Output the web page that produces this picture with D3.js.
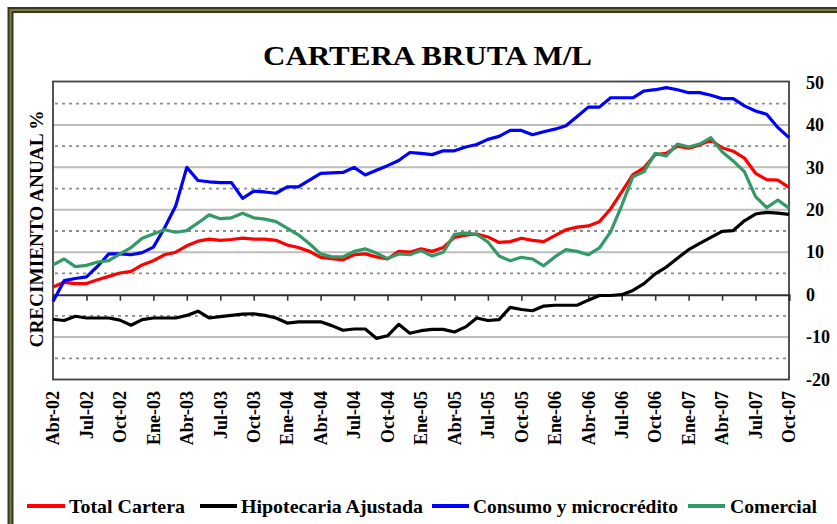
<!DOCTYPE html>
<html>
<head>
<meta charset="utf-8">
<script src="https://cdn.jsdelivr.net/npm/d3@7/dist/d3.min.js"></script>
<style>
  html, body { margin: 0; padding: 0; background: #ffffff; }
  svg { display: block; }
  text { font-family: "Liberation Serif", "Times New Roman", serif; font-weight: bold; fill: #000; }
</style>
</head>
<body>
<svg id="chart" width="837" height="524"></svg>
<script>
// Monthly periods, Abr-02 .. Oct-07
const mesesAbr = ["Ene", "Feb", "Mar", "Abr", "May", "Jun", "Jul", "Ago", "Sep", "Oct", "Nov", "Dic"];
const periodos = [];
for (let y = 2002, m = 3; !(y === 2007 && m === 10); ) {
  periodos.push(mesesAbr[m] + "-" + String(y).slice(2));
  m++; if (m === 12) { m = 0; y++; }
}

// Annual growth, %
const totalCartera = [
  1.8, 2.9, 2.6, 2.6, 3.5, 4.3, 5.1, 5.5, 7.0, 8.0, 9.4, 10.0,
  11.5, 12.6, 13.1, 12.8, 13.0, 13.3, 13.1, 13.1, 12.8, 11.7, 11.1, 10.2,
  8.8, 8.5, 8.2, 9.4, 9.6, 8.9, 8.4, 10.2, 10.0, 10.8, 10.2, 11.1,
  13.5, 14.0, 14.3, 13.6, 12.3, 12.5, 13.3, 12.8, 12.5, 13.9, 15.3, 15.9,
  16.2, 17.2, 20.2, 24.2, 28.3, 29.9, 33.0, 33.3, 35.0, 34.5, 35.3, 36.4,
  34.6, 33.8, 32.2, 28.6, 27.1, 27.0, 25.3
];
const hipotecaria = [
  -5.8, -6.1, -5.1, -5.5, -5.5, -5.5, -6.0, -7.2, -5.9, -5.5, -5.5, -5.5,
  -4.9, -3.9, -5.5, -5.2, -4.9, -4.6, -4.5, -4.9, -5.5, -6.7, -6.4, -6.4,
  -6.4, -7.3, -8.4, -8.1, -8.1, -10.3, -9.7, -7.0, -9.1, -8.5, -8.2, -8.2,
  -8.8, -7.6, -5.5, -6.1, -5.9, -3.0, -3.5, -3.8, -2.7, -2.5, -2.5, -2.5,
  -1.3, -0.2, -0.2, 0.0, 1.0, 2.6, 4.9, 6.5, 8.6, 10.6, 12.1, 13.5,
  14.9, 15.1, 17.4, 19.0, 19.4, 19.2, 18.9
];
const consumo = [
  -1.6, 3.3, 3.8, 4.2, 6.7, 9.6, 9.6, 9.4, 9.9, 11.2, 15.7, 20.9,
  30.0, 26.9, 26.6, 26.4, 26.4, 22.7, 24.4, 24.2, 23.9, 25.4, 25.4, 27.0,
  28.6, 28.7, 28.8, 30.0, 28.2, 29.3, 30.4, 31.6, 33.5, 33.3, 33.0, 33.9,
  33.9, 34.8, 35.4, 36.6, 37.3, 38.7, 38.7, 37.7, 38.4, 39.0, 39.8, 42.0,
  44.2, 44.2, 46.4, 46.4, 46.4, 48.0, 48.3, 48.8, 48.3, 47.6, 47.6, 47.0,
  46.2, 46.2, 44.5, 43.3, 42.5, 39.4, 37.0
];
const comercial = [
  7.0, 8.4, 6.6, 6.9, 7.7, 8.0, 9.6, 11.1, 13.3, 14.3, 15.3, 14.7,
  15.1, 16.9, 18.8, 17.9, 18.1, 19.2, 18.1, 17.8, 17.2, 15.7, 14.1, 12.0,
  9.6, 8.9, 8.9, 10.2, 10.8, 9.8, 8.5, 9.6, 9.4, 10.4, 9.1, 10.0,
  14.2, 14.5, 14.2, 12.4, 9.1, 8.0, 8.8, 8.4, 6.8, 8.9, 10.6, 10.2,
  9.4, 11.0, 14.8, 21.0, 27.8, 29.0, 33.3, 32.7, 35.5, 34.8, 35.5, 37.0,
  33.7, 31.5, 29.0, 23.1, 20.5, 22.3, 20.4
];

const seriesNombres = ["Total Cartera", "Hipotecaria Ajustada", "Consumo y microcrédito", "Comercial"];
const seriesColores = ["#ff0000", "#000000", "#0000ff", "#339966"];
const seriesValores = [totalCartera, hipotecaria, consumo, comercial];

const yTicks = [50, 40, 30, 20, 10, 0, -10, -20];
const yGridSolid = [40, 30, 20, 10, -10];
const yGridDotted = [45, 35, 25, 15, 5, -5, -15];

const titulo = "CARTERA BRUTA M/L";
const tituloEje = "CRECIMIENTO ANUAL %";

const svg = d3.select("#chart");

// Outer double frame
const frame = svg.append("g");
frame.append("rect").attr("x", 10.5).attr("y", 10).attr("width", 900).attr("height", 600)
  .attr("fill", "none").attr("stroke", "#38381a").attr("stroke-width", 6);
frame.append("rect").attr("x", 10.5).attr("y", 10).attr("width", 900).attr("height", 600)
  .attr("fill", "none").attr("stroke", "#7a7a4e").attr("stroke-width", 2);

const plot = { left: 53, right: 789, top: 82.5, bottom: 379.5 };

const x = d3.scalePoint().domain(periodos).range([plot.left, plot.right]);
const y = d3.scaleLinear().domain([-20, 50]).range([plot.bottom, plot.top]);

// Title
svg.append("text")
  .attr("x", 263).attr("y", 65)
  .attr("font-size", 28)
  .attr("textLength", 329).attr("lengthAdjust", "spacingAndGlyphs")
  .text(titulo);

// Gridlines
const grid = svg.append("g");
grid.selectAll("line.solid").data(yGridSolid).join("line")
  .attr("class", "solid")
  .attr("x1", plot.left).attr("x2", plot.right)
  .attr("y1", d => y(d)).attr("y2", d => y(d))
  .attr("stroke", "#bdbdbd").attr("stroke-width", 2);
grid.selectAll("line.dot").data(yGridDotted).join("line")
  .attr("class", "dot")
  .attr("x1", plot.left + 2).attr("x2", plot.right)
  .attr("y1", d => y(d)).attr("y2", d => y(d))
  .attr("stroke", "#8c8c8c").attr("stroke-width", 1.8)
  .attr("stroke-dasharray", "3,4");

// Plot border
svg.append("rect")
  .attr("x", plot.left).attr("y", plot.top - 1)
  .attr("width", plot.right - plot.left).attr("height", plot.bottom - plot.top + 1)
  .attr("fill", "none").attr("stroke", "#404040").attr("stroke-width", 1.8);

// Zero axis with quarterly ticks
const quarterly = periodos.filter((d, i) => i % 3 === 0);
const xAxis = d3.axisBottom(x).tickValues(quarterly).tickSize(6).tickFormat("");
const xAxisG = svg.append("g").attr("transform", `translate(0,${y(0)})`).call(xAxis);
xAxisG.select(".domain").attr("stroke", "#303030").attr("stroke-width", 2);
xAxisG.selectAll(".tick line").attr("stroke", "#303030").attr("stroke-width", 1.6);

// Category labels below the plot
svg.append("g").selectAll("text").data(quarterly).join("text")
  .attr("transform", d => `translate(${x(d)},391) rotate(-90)`)
  .attr("text-anchor", "end")
  .attr("dy", "0.35em")
  .attr("font-size", 18)
  .text(d => d);

// Right value axis (plain hyphen for negatives)
const yAxis = d3.axisRight(y).tickValues(yTicks).tickSize(0).tickPadding(17)
  .tickFormat(d => String(d));
const yAxisG = svg.append("g").attr("transform", `translate(${plot.right},0)`).call(yAxis);
yAxisG.select(".domain").remove();
yAxisG.selectAll(".tick text")
  .attr("font-family", "Liberation Serif, Times New Roman, serif")
  .attr("font-weight", "bold").attr("font-size", 18).attr("fill", "#000");

// Axis title
svg.append("text")
  .attr("transform", "translate(43,229) rotate(-90)")
  .attr("text-anchor", "middle")
  .attr("font-size", 19)
  .attr("textLength", 237).attr("lengthAdjust", "spacingAndGlyphs")
  .text(tituloEje);

// Series lines
const line = d3.line().x((d, i) => x(periodos[i])).y(d => y(d));
svg.append("g").selectAll("path").data(seriesValores).join("path")
  .attr("d", d => line(d))
  .attr("fill", "none")
  .attr("stroke", (d, i) => seriesColores[i])
  .attr("stroke-width", 3.2)
  .attr("stroke-linejoin", "round");

// Legend
const legendItems = [
  { sx: 27, ex: 65, tx: 69, tw: 116 },
  { sx: 200, ex: 237, tx: 241, tw: 182 },
  { sx: 432, ex: 469, tx: 473, tw: 205 },
  { sx: 688, ex: 725, tx: 730, tw: 87 }
];
const legend = svg.append("g");
legendItems.forEach((it, i) => {
  legend.append("line")
    .attr("x1", it.sx).attr("x2", it.ex).attr("y1", 506).attr("y2", 506)
    .attr("stroke", seriesColores[i]).attr("stroke-width", 4);
  legend.append("text")
    .attr("x", it.tx).attr("y", 513)
    .attr("font-size", 19.5)
    .attr("textLength", it.tw).attr("lengthAdjust", "spacingAndGlyphs")
    .text(seriesNombres[i]);
});
</script>
</body>
</html>
